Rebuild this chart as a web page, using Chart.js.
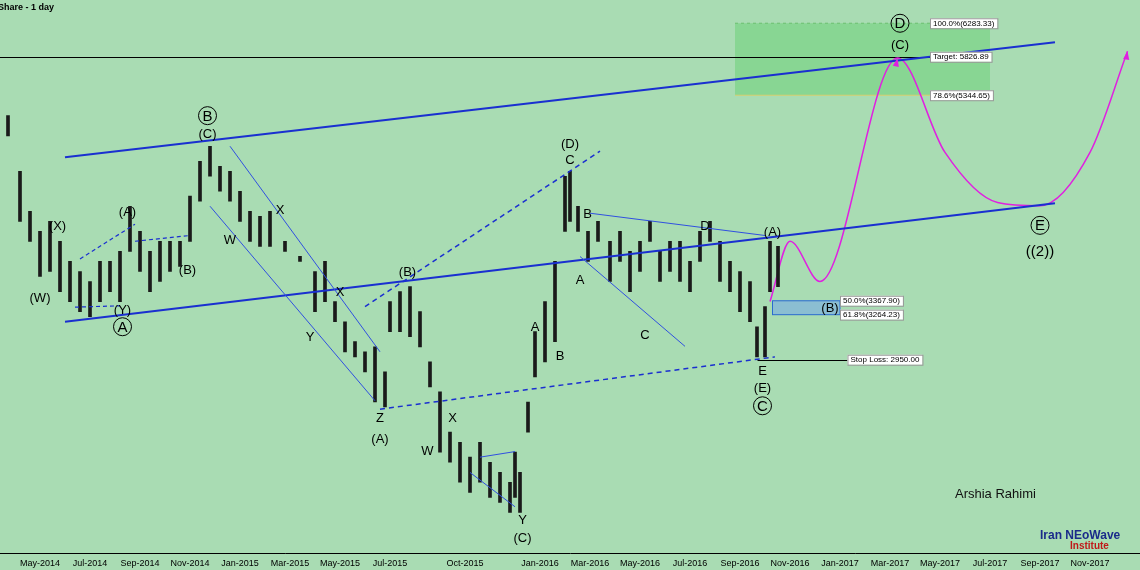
<!DOCTYPE html>
<html><head><meta charset="utf-8">
<script src="https://cdn.jsdelivr.net/npm/chart.js@4"></script>
<style>html,body{margin:0;padding:0;background:#a9dcb3;overflow:hidden;}</style>
</head><body><canvas id="c" width="1140" height="570" style="width:1140px;height:570px;display:block"></canvas>
<script>
// x values: month index from Jan-2014 (0); prices in log scale
const barMonths=[2.72,3.2,3.6,4.0,4.4,4.8,5.2,5.6,6.0,6.4,6.8,7.2,7.6,8.0,8.4,8.8,9.2,9.6,10.0,10.4,10.8,11.2,11.6,12.0,12.4,12.8,13.2,13.8,14.4,15.0,15.4,15.8,16.2,16.6,17.0,17.4,17.8,18.0,18.4,18.8,19.2,19.6,20.0,20.4,20.8,21.2,21.6,22.0,22.4,22.8,23.0,23.2,23.52,23.8,24.2,24.6,25.0,25.2,25.52,25.92,26.32,26.8,27.2,27.6,28.0,28.4,28.8,29.2,29.6,30.0,30.4,30.8,31.2,31.6,32.0,32.4,32.68,33.0,33.2,33.52];
const barLows=[4877,4026,3849,3557,3597,3438,3362,3287,3250,3362,3438,3362,3763,3597,3438,3517,3597,3638,3849,4212,4455,4308,4212,4026,3849,3806,3806,3763,3679,3287,3362,3213,3003,2969,2871,2683,2653,3142,3142,3107,3037,2775,2397,2343,2240,2190,2240,2165,2141,2093,2165,2093,2507,2839,2936,3072,3936,4026,3936,3679,3849,3517,3679,3438,3597,3849,3517,3597,3517,3438,3679,3849,3517,3438,3287,3213,2969,2969,3438,3477];
const barHighs=[5105,4505,4118,3936,4026,3849,3679,3597,3517,3679,3679,3763,4165,3936,3763,3849,3849,3849,4260,4608,4766,4556,4505,4308,4118,4072,4118,3849,3721,3597,3679,3362,3213,3072,3003,3037,2871,3362,3438,3477,3287,2936,2744,2507,2451,2370,2451,2343,2291,2240,2397,2291,2683,3142,3362,3679,4455,4505,4165,3936,4026,3849,3936,3763,3849,4026,3763,3849,3849,3679,3936,4026,3849,3679,3597,3517,3177,3324,3849,3806];
const projMonths=[33.2,34.0,35.2,38.3,40.2,42.3,44.0,46.0,47.5];
const projPrices=[3362,3849,3517,5811,4700,4200,4170,4700,5900];
const tickMonths=[4,6,8,10,12,14,16,18,21,24,26,28,30,32,34,36,38,40,42,44,46];
const tickLabels=["May-2014","Jul-2014","Sep-2014","Nov-2014","Jan-2015","Mar-2015","May-2015","Jul-2015","Oct-2015","Jan-2016","Mar-2016","May-2016","Jul-2016","Sep-2016","Nov-2016","Jan-2017","Mar-2017","May-2017","Jul-2017","Sep-2017","Nov-2017"];
const waveLabels=[["(W)",4.0,3392],["(X)",4.7,3990],["(Y)",7.3,3302],["A",7.3,3177,1],["(A)",7.5,4118],["(B)",9.9,3613],["B",10.7,5105,1],["(C)",10.7,4900],["W",11.6,3866],["X",13.6,4137],["X",16.0,3438],["Y",14.8,3107],["Z",17.6,2590],["(A)",17.6,2474],["(B)",18.7,3597],["X",20.5,2590],["W",19.5,2408],["Y",23.3,2060],["(C)",23.3,1980],["A",23.8,3177],["B",24.8,2980],["(D)",25.2,4800],["C",25.2,4630],["B",25.9,4100],["A",25.6,3530],["C",28.2,3120],["D",30.6,3990],["(A)",33.3,3936],["(B)",35.6,3316],["E",32.9,2877],["(E)",32.9,2771],["C",32.9,2660,1],["D",38.4,6283,1],["(C)",38.4,5997],["E",44.0,3990,1],["((2))",44.0,3770]];
const priceTags=[["100.0%(6283.33)",39.6,6283],["Target: 5826.89",39.6,5826.89],["78.6%(5344.65)",39.6,5344.65],["50.0%(3367.90)",36.0,3367.9],["61.8%(3264.23)",36.0,3264.23],["Stop Loss: 2950.00",36.3,2950]];
// trend lines: [m1,p1,m2,p2,color,width,dash]
const trendLines=[[5.0,4650,44.6,6020,"#1a2fd0",2,[]],[5.0,3213,44.6,4194,"#1a2fd0",2,[]],[17.6,2640,33.4,2969,"#1a2fd0",1.5,[5,4]],[17.0,3324,26.4,4713,"#1a2fd0",1.5,[5,4]],[11.6,4766,17.6,3003,"#3050e0",1,[]],[10.8,4165,17.4,2690,"#3050e0",1,[]],[5.6,3700,7.8,4000,"#1a2fd0",1.2,[4,3]],[5.4,3320,7.2,3330,"#1a2fd0",1.2,[4,3]],[7.8,3850,10.0,3900,"#1a2fd0",1.2,[4,3]],[21.6,2370,23.0,2400,"#3050e0",1,[]],[21.2,2290,23.0,2120,"#3050e0",1,[]],[26.0,4100,33.0,3900,"#3050e0",1,[]],[25.6,3720,29.8,3040,"#3050e0",1,[]]];

const overlay={id:'ov',
 beforeDraw(ch){const c=ch.ctx;c.save();c.fillStyle='#a9dcb3';c.fillRect(0,0,ch.width,ch.height);c.restore();},
 beforeDatasetsDraw(ch){const {ctx,scales:{x,y},chartArea:a}=ch;ctx.save();
  ctx.fillStyle='rgba(110,210,120,0.55)';const bx=x.getPixelForValue(31.8),bx2=x.getPixelForValue(42.0);
  ctx.fillRect(bx,y.getPixelForValue(6283.33),bx2-bx,y.getPixelForValue(5344.65)-y.getPixelForValue(6283.33));
  ctx.setLineDash([3,3]);ctx.strokeStyle='#6cc070';ctx.beginPath();ctx.moveTo(bx,y.getPixelForValue(6283.33));ctx.lineTo(bx2,y.getPixelForValue(6283.33));ctx.stroke();
  ctx.setLineDash([]);ctx.strokeStyle='#d8d070';ctx.beginPath();ctx.moveTo(bx,y.getPixelForValue(5344.65));ctx.lineTo(bx2,y.getPixelForValue(5344.65));ctx.stroke();
  const cx=x.getPixelForValue(33.3),cx2=x.getPixelForValue(36.0);
  ctx.fillStyle='rgba(120,170,230,0.6)';ctx.fillRect(cx,y.getPixelForValue(3367.9),cx2-cx,y.getPixelForValue(3264.23)-y.getPixelForValue(3367.9));
  ctx.strokeStyle='#2a6ad0';ctx.lineWidth=1;ctx.strokeRect(cx,y.getPixelForValue(3367.9),cx2-cx,y.getPixelForValue(3264.23)-y.getPixelForValue(3367.9));
  ctx.strokeStyle='#000';ctx.lineWidth=1;ctx.beginPath();const ty=Math.round(y.getPixelForValue(5826.89))+0.5;ctx.moveTo(a.left,ty);ctx.lineTo(x.getPixelForValue(39.6),ty);ctx.stroke();
  const sy=Math.round(y.getPixelForValue(2950))+0.5;ctx.beginPath();ctx.moveTo(x.getPixelForValue(32.7),sy);ctx.lineTo(x.getPixelForValue(36.3),sy);ctx.stroke();
  ctx.restore();},
 afterDatasetsDraw(ch){const {ctx,scales:{x,y}}=ch;ctx.save();
  trendLines.forEach(l=>{ctx.strokeStyle=l[4];ctx.lineWidth=l[5];ctx.setLineDash(l[6]);ctx.beginPath();ctx.moveTo(x.getPixelForValue(l[0]),y.getPixelForValue(l[1]));ctx.lineTo(x.getPixelForValue(l[2]),y.getPixelForValue(l[3]));ctx.stroke();});
  ctx.setLineDash([]);
  const arr=(m1,p1,m2,p2)=>{const x1=x.getPixelForValue(m1),y1=y.getPixelForValue(p1),x2=x.getPixelForValue(m2),y2=y.getPixelForValue(p2);const an=Math.atan2(y2-y1,x2-x1);ctx.fillStyle='#e020e0';ctx.beginPath();ctx.moveTo(x2,y2);ctx.lineTo(x2-9*Math.cos(an-0.35),y2-9*Math.sin(an-0.35));ctx.lineTo(x2-9*Math.cos(an+0.35),y2-9*Math.sin(an+0.35));ctx.fill();};
  arr(37.9,5200,38.3,5811);arr(47.2,5300,47.5,5900);
  ctx.textAlign='center';ctx.textBaseline='middle';ctx.fillStyle='#000';
  waveLabels.forEach(w=>{const px=x.getPixelForValue(w[1]),py=y.getPixelForValue(w[2]);ctx.font=(w[3]||w[0]=='((2))'?'15px':'13px')+' "Liberation Sans",Arial';ctx.fillStyle='#000';ctx.fillText(w[0],px,py+1);if(w[3]){ctx.lineWidth=1;ctx.strokeStyle='#000';ctx.beginPath();ctx.arc(px,py,9,0,Math.PI*2);ctx.stroke();}});
  ctx.font='8px "Liberation Sans",Arial';ctx.textAlign='left';
  priceTags.forEach(t=>{const px=x.getPixelForValue(t[1]),py=y.getPixelForValue(t[2]);const w=ctx.measureText(t[0]).width+6;ctx.fillStyle='#fff';ctx.fillRect(px,py-5,w,10);ctx.strokeStyle='#999';ctx.strokeRect(px+0.5,py-4.5,w,10);ctx.fillStyle='#000';ctx.fillText(t[0],px+3,py+0.5);});
  ctx.font='bold 9px "Liberation Sans",Arial';ctx.fillText('Share - 1 day',-2,8);
  ctx.font='13px "Liberation Sans",Arial';ctx.fillStyle='#111';ctx.fillText('Arshia Rahimi',955,494);
  ctx.fillStyle='#1a2a8a';ctx.font='bold 12px "Liberation Sans",Arial';ctx.fillText('Iran NEoWave',1040,536);
  ctx.fillStyle='#c01818';ctx.font='bold 10px "Liberation Sans",Arial';ctx.fillText('Institute',1070,546);
  ctx.restore();}};

new Chart(document.getElementById('c'),{
 data:{datasets:[
  {type:'bar',data:barMonths.map((m,i)=>({x:m,y:[barLows[i],barHighs[i]]})),backgroundColor:'#1a1a1a',barThickness:3,borderWidth:0},
  {type:'line',data:projMonths.map((m,i)=>({x:m,y:projPrices[i]})),borderColor:'#e020e0',borderWidth:1.5,pointRadius:0,cubicInterpolationMode:'monotone'}]},
 options:{responsive:false,animation:false,devicePixelRatio:1,
  layout:{padding:0},
  plugins:{legend:{display:false},tooltip:{enabled:false}},
  scales:{
   x:{type:'linear',offset:false,min:2.4,max:48,grid:{display:false,offset:false,tickColor:'#000',tickLength:4},border:{color:'#000'},
      afterBuildTicks:s=>{s.ticks=tickMonths.map(v=>({value:v}));},
      ticks:{autoSkip:false,maxRotation:0,color:'#000',font:{size:9,family:'"Liberation Sans",Arial'},padding:1,callback:(v,i)=>tickLabels[i]}},
   y:{type:'logarithmic',min:1910,max:6620,display:false}}},
 plugins:[overlay]});
</script>
</body></html>
